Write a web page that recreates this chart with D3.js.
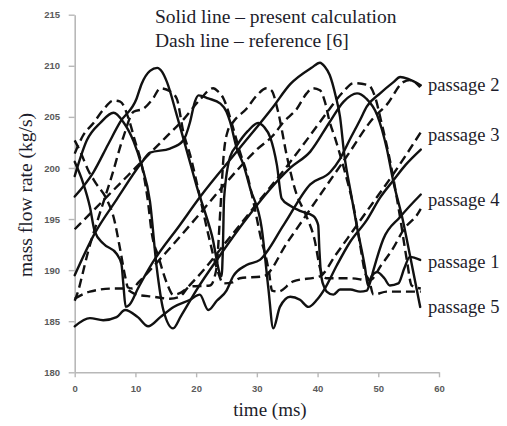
<!DOCTYPE html>
<html><head><meta charset="utf-8">
<script src="https://cdnjs.cloudflare.com/ajax/libs/d3/7.8.5/d3.min.js"></script>
<style>html,body{margin:0;padding:0;background:#fff;}svg{display:block;}</style>
</head><body>
<script>
// ---- data (time in ms, mass flow rate in kg/s) ----
const xTicks = [0,10,20,30,40,50,60];
const yTicks = [180,185,190,195,200,205,210,215];
const titleLines = ["Solid line \u2013 present calculation","Dash line \u2013 reference [6]"];
const passageNames = ["passage 2","passage 3","passage 4","passage 1","passage 5"];
const passageLabelValues = [208.1,203.2,196.9,190.8,186.4];

// present calculation (solid)
const solid1 = [[0,200.6],[1.4,198.5],[2.5,196.2],[3.3,193.8],[4.7,192.6],[6.9,191.6],[7.7,190.6],[8.0,188.7],[8.4,186.4],[9,186.6],[10.5,188.3],[12.9,190.8],[17.3,194.4],[20.7,197.2],[26.7,201.6],[32.7,206],[35.5,208.2],[39,209.8],[40.4,210.3],[41.2,209.9],[42,209.1],[43,207],[43.7,205],[44.4,201.3],[45.5,197.5],[46.5,194.2],[47.8,190.3],[48.3,188.5],[48.9,189.4],[49.8,189.8],[51,189.2],[51.9,188.5],[53.3,188.7],[54.3,190.2],[55.2,191.3],[56.9,191]];
const solid4 = [[0,197.2],[3.1,199.6],[5.5,202.3],[7.5,204.5],[10.2,206.8],[11,208.2],[12.4,209.5],[13.6,209.8],[14.4,209.4],[15.2,208.4],[16.8,205.2],[18.5,201.6],[20.1,198.2],[22.6,193.4],[24.2,189.4],[24.4,192],[24.6,197],[25.6,201.1],[26.7,202.2],[28.5,203.6],[30.2,204.4],[31.2,204],[32.2,203],[33.3,200.3],[34.1,197],[35.5,196.3],[37.1,195.8],[39.3,195.3],[40.1,194.4],[40.3,192],[40.6,189.4],[41.2,188.2],[41.5,187.9],[42.6,187.6],[43.7,188.1],[45.4,188.1],[47,187.9],[48.1,188],[48.6,188.7],[49.2,190],[50.8,193],[53.6,195.2],[57,197.4]];
const solid2 = [[0,184.5],[2.5,185.3],[4.7,185.1],[6.9,185.4],[8.3,186.1],[10.4,185.4],[12.1,184.5],[14.1,185.4],[16.3,186.4],[19,187.1],[20.6,187.6],[22,186.1],[23.4,187],[25,188],[26.1,189.4],[28.3,190.5],[30.5,191],[34.5,194.5],[38.8,198.4],[42.1,199.6],[43.7,200.9],[45.5,203],[47,204.7],[48.1,206],[50.3,207.3],[52.5,208.4],[53.6,208.9],[55,208.7],[57,208.1]];
const solid3 = [[0,189.5],[3.3,193.6],[6.9,196.9],[11,200.5],[12.4,201.5],[15.7,201.9],[17.9,202.7],[19,204.5],[19.8,206.5],[20.4,207.1],[22,206.8],[24,206.3],[25,205.5],[25.6,204.5],[26.7,201.9],[27.8,200.3],[28.9,198],[30.8,194.1],[31.9,188.2],[32.7,184.3],[33.8,186.4],[35.5,187.4],[37.1,187.1],[38.5,186.4],[39.9,187.1],[41.2,188.2],[43.2,190.5],[45.4,192.8],[48.1,194.9],[50.3,197.1],[52.5,198.8],[54.5,200.3],[57,201.8]];
const solid5 = [[0,199.2],[2,202.7],[4.2,204.4],[6.4,205.4],[8,204.5],[9.7,202.6],[11,200.3],[12.4,196.7],[13.5,190.3],[14.6,186.1],[16.2,184.3],[17.5,185.5],[20,188],[24,191.5],[28,194.8],[32,197.8],[35.5,200],[38.8,201.6],[42,204.5],[44.3,206.5],[46.5,207.3],[48,206.8],[49.8,205.2],[51.4,201.9],[52.5,198.6],[54,195],[55.2,191.5],[56.9,186.4]];

// reference [6] (dashed)
const dash1 = [[0,202.7],[1,201.5],[2.2,199.8],[3.5,198.5],[5.3,196.9],[6.4,195.2],[7.5,192],[8.3,189.4],[8.8,188.3],[9.5,188.2],[10.5,188.8],[15,191.7],[20,195.1],[25,198.6],[30,201.8],[32.7,203.2],[34.4,204.5],[36.6,205.8],[38.2,207.3],[39.2,207.8],[40.4,207.6],[41.2,206.5],[42,204.5],[42.9,202.9],[43.7,201.3],[45,198.5],[46,196],[47,192.5],[47.8,189.8],[48.5,189],[49.2,187.6],[51.4,187.9],[55.2,187.9],[57,187.9]];
const dash2 = [[0,187],[0.6,188],[1.2,189.4],[2.2,191.8],[4,195.3],[6,199],[8,203],[9.7,205.5],[11.3,205.8],[12.9,206.8],[14.1,207.8],[15.7,207.5],[16.8,206.8],[17.9,203.5],[19,201.3],[20.5,197.5],[22,193.5],[23.5,190],[24.5,188.7],[26,188.8],[27.2,189.2],[31.1,189.4],[35,192.7],[40,197],[45,201.3],[49.2,204.9],[51.4,206.2],[54.1,208.4],[55.2,208.6],[56.9,207.9]];
const dash3 = [[0,194],[5,197],[10,200],[15,203],[18,204.8],[20.5,206.6],[22.8,207.8],[23.6,207.5],[24.5,206.8],[26.1,203.9],[27.2,201.6],[28.3,199.6],[29.5,196.5],[30.8,192.8],[31.4,191.5],[32,189.8],[32.5,188],[33.5,187.9],[36,188.9],[40.4,189.4],[43,191.5],[46,194],[49,196.5],[52,199],[54.5,201.2],[57,203.5]];
const dash4 = [[0,187.2],[2.5,187.9],[6.4,188.2],[8,188.2],[10.2,187.6],[12.9,187.4],[15.7,187.2],[17.3,187.4],[19,188.4],[22.3,188.5],[23.3,190],[24,196],[24.5,201],[25.2,203.6],[26.1,204.5],[28.3,205.8],[30,207.1],[31.6,207.8],[32.4,207.6],[33.5,205.5],[35,201],[36.5,197.5],[38,195.5],[39.5,193],[40.5,190],[41.5,189.2],[45.4,189.2],[48.6,189],[50.5,190.5],[52.5,192.2],[54.1,193.9],[56.6,195.6],[57,196]];
const dash5 = [[0,201.4],[1.4,203.2],[3.1,204.4],[4.7,205.7],[6.4,206.6],[7.5,206.5],[9.1,204.4],[9.9,202.7],[11,200.4],[12,197],[12.7,193.6],[13.8,191.3],[15.2,188.7],[16.2,187.6],[17.5,187.8],[20,189.2],[25,192.8],[30,196.5],[35,200.2],[40.4,204.5],[42,205.8],[44.3,207.5],[45.9,208.3],[48.4,208.1],[49.5,206.9],[50.5,204.5],[52,200.5],[53.5,195.5],[54.7,191],[55.5,188.5],[57,188.2]];

const solidSeries = [solid1, solid2, solid3, solid4, solid5];
const dashSeries = [dash1, dash2, dash3, dash4, dash5];

// ---- drawing ----
const W = 507, H = 426;
const svg = d3.select("body").append("svg").attr("width", W).attr("height", H);
const x = d3.scaleLinear().domain([0,60]).range([74.7,439]);
const y = d3.scaleLinear().domain([180,215]).range([372.3,14.7]);

const axisColor = "#b8b8b8", tickText = "#5a5a5a";
const gx = svg.append("g").attr("transform", `translate(0,${y(180)})`)
  .call(d3.axisBottom(x).tickValues(xTicks).tickSize(5).tickSizeOuter(0));
const gy = svg.append("g").attr("transform", `translate(${x(0)},0)`)
  .call(d3.axisLeft(y).tickValues(yTicks).tickSize(6).tickSizeOuter(0));
[gx, gy].forEach(g => {
  g.select(".domain").attr("stroke", axisColor).attr("stroke-width", 1.6);
  g.selectAll(".tick line").attr("stroke", axisColor).attr("stroke-width", 1.4);
  g.selectAll(".tick text").attr("fill", tickText).attr("font-family", "Liberation Sans, Arial, sans-serif")
    .attr("font-size", 9.5).attr("font-weight", "bold");
});
gx.selectAll(".tick text").attr("dy", "1.25em");
gy.selectAll(".tick text").attr("dx", "-0.6em");

const line = d3.line().x(d => x(d[0])).y(d => y(d[1])).curve(d3.curveMonotoneX);
const plot = svg.append("g");
plot.selectAll("path.solid").data(solidSeries).join("path").attr("class","solid")
  .attr("d", line).attr("fill","none").attr("stroke","#111").attr("stroke-width",2.4)
  .attr("stroke-linejoin","round").attr("stroke-linecap","round");
plot.selectAll("path.dash").data(dashSeries).join("path").attr("class","dash")
  .attr("d", line).attr("fill","none").attr("stroke","#111").attr("stroke-width",2.4)
  .attr("stroke-dasharray","9,5");

const serif = "Liberation Serif, Times New Roman, serif", textCol = "#1d1d2b";
svg.selectAll("text.title").data(titleLines).join("text").attr("class","title")
  .attr("x", 155).attr("y", (d,i) => 23 + i*23.5).text(d => d)
  .attr("font-family", serif).attr("font-size", 19.5).attr("fill", textCol);

svg.selectAll("text.plabel").data(passageNames).join("text").attr("class","plabel")
  .attr("x", 428).attr("y", (d,i) => y(passageLabelValues[i])).attr("dy","0.32em").text(d => d)
  .attr("font-family", serif).attr("font-size", 18.5).attr("fill", textCol);

svg.append("text").attr("x", 270).attr("y", 416).attr("text-anchor","middle")
  .attr("font-family", serif).attr("font-size", 19).attr("fill", textCol).text("time (ms)");
svg.append("text").attr("transform", "translate(32,195) rotate(-90)").attr("text-anchor","middle")
  .attr("font-family", serif).attr("font-size", 19.5).attr("fill", textCol).text("mass flow rate (kg/s)");
</script>
</body></html>
